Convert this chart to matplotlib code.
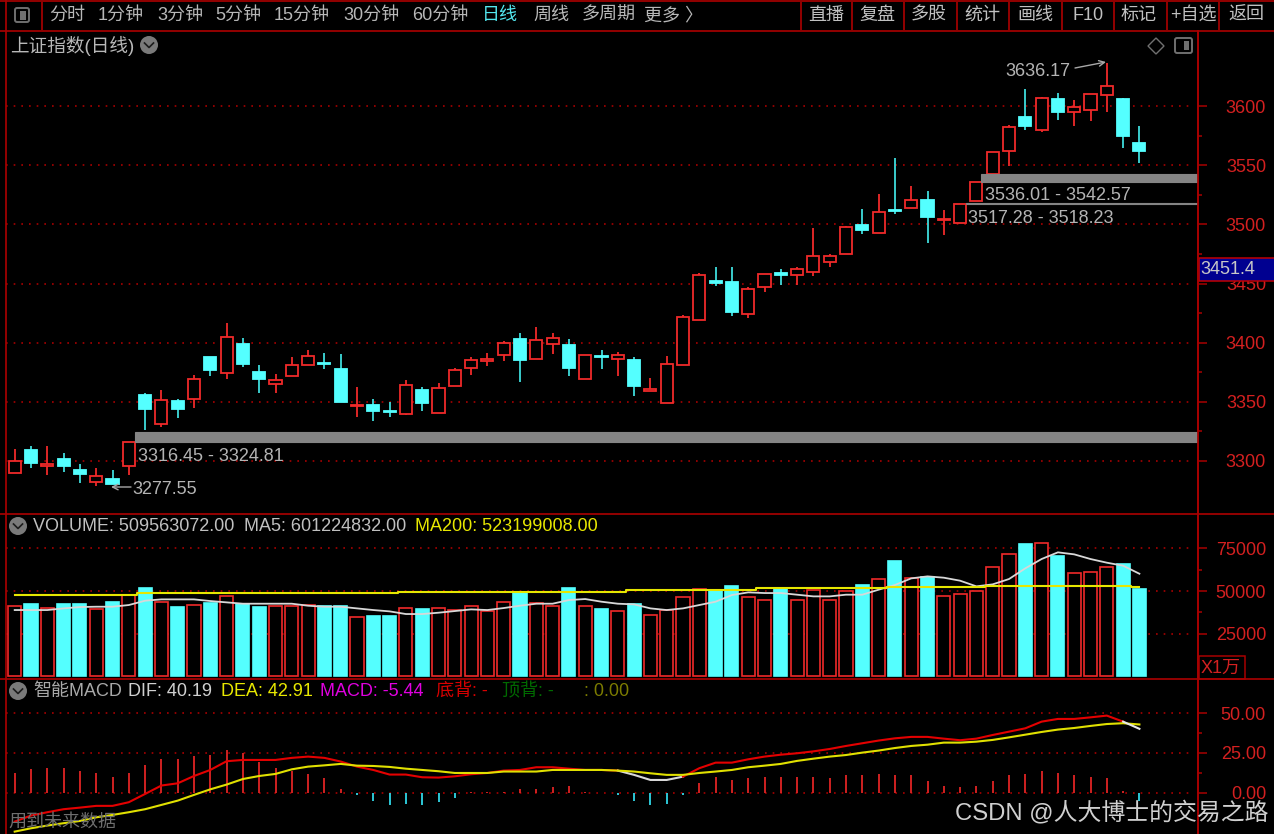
import matplotlib
matplotlib.use("Agg")
import matplotlib.pyplot as plt
from matplotlib.patches import Rectangle, Circle, Polygon, FancyBboxPatch
import numpy as np

FONT = ['Liberation Sans', 'Noto Sans CJK SC', 'DejaVu Sans']
plt.rcParams['font.family'] = FONT

# ---------- data ----------
opens = [3289.6,3309.0,3296.0,3301.4,3292.6,3282.0,3285.0,3296.0,3356.0,3331.3,
         3351.0,3352.6,3387.6,3374.6,3399.1,3375.0,3365.3,3371.8,3380.9,3382.8,
         3377.5,3346.5,3347.1,3342.0,3340.0,3359.7,3340.3,3363.1,3378.3,3384.5,
         3389.6,3402.8,3385.9,3398.6,3397.8,3369.3,3389.0,3385.9,3385.1,3359.2,
         3349.0,3380.9,3418.9,3452.1,3451.0,3424.0,3446.8,3458.6,3456.9,3459.5,
         3468.4,3474.7,3499.2,3492.4,3512.1,3513.8,3520.8,3503.4,3501.1,3520.0,
         3542.6,3562.2,3590.5,3579.7,3605.7,3594.9,3596.4,3609.1,3605.7,3569.0]
closes = [3300.0,3298.3,3297.7,3295.8,3289.3,3287.3,3280.3,3316.3,3343.9,3351.8,
          3343.9,3369.6,3376.7,3405.0,3382.0,3369.0,3368.5,3381.1,3388.7,3382.0,
          3350.1,3347.1,3342.5,3341.2,3364.5,3349.0,3361.9,3377.2,3385.1,3385.9,
          3400.0,3385.6,3402.5,3403.7,3378.3,3389.8,3388.1,3389.8,3363.1,3360.8,
          3382.2,3421.4,3457.2,3450.7,3426.2,3445.6,3458.3,3456.9,3462.0,3473.5,
          3473.5,3497.8,3495.0,3510.4,3511.3,3520.6,3506.2,3504.3,3517.3,3536.0,
          3560.9,3582.5,3583.4,3606.8,3594.9,3599.2,3610.4,3616.9,3574.7,3562.0]
highs = [3310.1,3312.9,3312.9,3306.5,3297.7,3293.8,3292.6,3316.3,3357.2,3360.0,
         3352.1,3372.7,3387.6,3416.9,3404.2,3381.1,3373.5,3387.6,3393.8,3391.5,
         3390.2,3362.3,3352.1,3349.6,3368.5,3362.3,3366.2,3378.8,3387.9,3391.5,
         3401.7,3407.9,3413.0,3407.9,3402.8,3389.8,3394.1,3391.9,3387.6,3369.9,
         3389.0,3423.1,3458.6,3463.7,3463.7,3447.3,3458.3,3462.5,3463.7,3496.9,
         3475.2,3498.9,3513.2,3525.9,3556.3,3532.2,3528.4,3511.9,3517.3,3536.0,
         3560.9,3584.0,3614.6,3607.9,3611.0,3605.3,3610.4,3636.17,3606.8,3582.9]
lows = [3289.6,3294.3,3288.2,3290.5,3281.7,3279.1,3280.3,3288.2,3326.2,3328.5,
        3336.1,3345.0,3371.6,3369.0,3379.2,3357.7,3357.7,3371.8,3380.9,3378.0,
        3350.1,3337.4,3333.6,3337.4,3338.9,3342.5,3340.3,3363.1,3372.9,3380.5,
        3384.5,3366.5,3385.9,3390.7,3371.6,3369.3,3378.0,3371.8,3355.2,3359.2,
        3349.0,3380.9,3418.9,3447.6,3422.3,3421.1,3442.6,3449.0,3449.0,3456.6,
        3464.2,3474.7,3492.1,3492.4,3508.5,3513.8,3484.5,3491.0,3501.1,3520.0,
        3542.6,3549.0,3579.5,3578.3,3588.2,3583.4,3587.1,3594.7,3564.3,3551.6]

volume = [41020,42190,40230,42190,42190,39260,43750,47650,51750,43550,
          40430,41800,42970,47260,42580,40430,41020,41020,41990,41020,
          41020,34770,35160,35160,40230,39450,40230,39060,41020,38280,
          43750,49600,42770,41020,51750,41020,39450,38280,42580,35740,
          38670,46280,51360,50380,52730,46280,44530,51360,44530,50380,
          44530,49800,53510,56830,67560,57800,58390,47070,48040,49800,
          63850,71660,77320,77910,70300,60340,61320,63850,65610,50956]
ma5 = [38870,38870,38870,39840,40620,40820,40820,41800,44330,45110,
       45110,45110,44140,43360,42580,42580,42580,42580,41400,40820,
       40820,39840,38870,38090,36530,36530,37310,38280,39260,38870,
       40040,41400,42580,42580,44720,45310,43750,42580,42190,39840,
       38870,39840,41800,43750,47650,49210,48820,48820,47850,46870,
       46870,47850,47850,50780,53510,57410,58580,57800,56050,52730,
       53900,57020,63270,68730,72640,71470,68730,66590,64830,60122]
ma200 = [47650]*8 + [48630]*16 + [49600]*14 + [50580]*8 + [51560]*8 + [52340]*6 + [53120]*9 + [52320]

dif = [-18.2,-14.4,-12.3,-10.4,-9.4,-8.3,-8.3,-6.0,-0.8,4.5,
       5.9,10.5,14.3,19.8,20.6,20.6,20.6,21.9,22.7,21.9,
       19.6,16.4,14.3,11.4,11.4,9.7,9.5,10.3,11.6,12.4,
       13.9,14.3,16.0,16.0,15.1,14.3,14.3,13.9,11.2,8.0,
       8.0,10.1,15.4,18.9,18.9,21.0,22.7,23.9,24.8,26.0,
       27.5,29.4,31.1,32.8,34.2,35.1,35.1,34.0,33.0,34.0,
       36.3,38.4,40.5,44.7,46.4,46.4,47.4,48.5,44.7,40.19]
dea = [-24.5,-22.4,-20.7,-19.2,-17.8,-15.5,-14.0,-12.3,-10.4,-7.7,
       -5.0,-1.4,2.1,5.1,8.6,10.5,11.8,14.7,16.4,17.2,
       18.1,17.0,16.8,16.2,15.1,14.3,13.5,12.4,12.4,12.4,
       13.3,13.3,13.3,14.3,14.3,14.3,14.3,13.9,13.3,12.2,
       11.2,11.2,12.4,13.3,14.3,16.0,17.0,18.1,20.0,21.4,
       22.7,23.7,25.2,26.5,28.1,29.4,30.2,31.5,31.5,32.1,
       33.2,34.8,36.5,38.2,39.7,40.7,42.0,43.2,43.7,42.91]
macd = [12.6,14.7,15.5,15.5,13.6,12.6,9.6,12.6,17.4,21.0,
        21.0,23.1,23.9,26.8,24.7,19.3,15.5,13.8,11.7,9.0,
        2.3,-1.5,-5.2,-8.0,-7.1,-8.0,-6.1,-3.1,0.3,0.3,
        0.4,2.5,2.5,3.4,4.2,0.4,-0.2,-1.5,-5.0,-8.0,
        -7.1,-1.5,6.3,9.9,8.0,9.0,9.9,9.9,9.9,9.9,
        9.0,10.9,10.9,11.7,10.9,10.9,7.3,4.2,3.4,4.2,
        7.1,10.9,11.7,13.6,12.6,10.9,9.9,9.0,1.3,-5.44]

gap_low = [3316.45, 3536.01, 3517.28]
gap_high = [3324.81, 3542.57, 3518.23]
gap_start = [7.35, 59.3, 58.35]
gap_labels = ["3316.45 - 3324.81", "3536.01 - 3542.57", "3517.28 - 3518.23"]

price_major = [3300, 3350, 3400, 3450, 3500, 3550, 3600]
price_minor = [3325, 3375, 3425, 3475, 3525, 3575]
vol_major = [25000, 50000, 75000]
vol_minor = [37500, 62500]
macd_major = [0, 25, 50]
macd_minor = [12.5, 37.5]

toolbar_left = ["分时", "1分钟", "3分钟", "5分钟", "15分钟", "30分钟", "60分钟", "日线", "周线", "多周期", "更多 〉"]
toolbar_right = ["直播", "复盘", "多股", "统计", "画线", "F10", "标记", "+自选", "返回"]

# ---------- style ----------
W, H = 1274, 834
BG = '#000000'
FRAME = '#a80000'
GRID = '#a80000'
AXTXT = '#d42020'
RED = '#f02a2a'
CYAN = '#54ffff'
CYANW = '#3fdcdc'
GRAY = '#b4b4b4'
PX = 72 / 100
STEP = 16.3
X0 = 14.7
XR = (1198 - X0) / STEP

fig = plt.figure(figsize=(W / 100, H / 100), dpi=100, facecolor=BG)

def pane(top, bottom, left=6, right=1198):
    ax = fig.add_axes([left / W, 1 - bottom / H, (right - left) / W, (bottom - top) / H], facecolor=BG)
    for s in ax.spines.values():
        s.set_visible(False)
    ax.spines['right'].set_visible(True)
    ax.spines['right'].set_color(FRAME)
    ax.spines['right'].set_linewidth(1.7 * PX)
    ax.set_xlim((left - X0) / STEP, XR)
    ax.set_xticks([])
    ax.yaxis.tick_right()
    return ax

def axis_style(ax, major, minor, fmt):
    ax.set_yticks(major)
    ax.set_yticklabels([fmt % v for v in major], fontsize=13, color=AXTXT, ha='right')
    ax.set_yticks(minor, minor=True)
    ax.tick_params(axis='y', which='major', length=6.3, width=1.1, color=FRAME, pad=42.7)
    ax.tick_params(axis='y', which='minor', length=3, width=1.1, color=FRAME)
    ax.hlines(major, ax.get_xlim()[0], XR - 0.37, colors=GRID, linewidth=1.2, linestyles=[(0, (1.0, 3.6))], zorder=1)

n = len(opens)
xs = np.arange(n)
up = [c >= o for o, c in zip(opens, closes)]

# price pane
ax1 = pane(31, 514)
ax1.set_ylim(3255.2, 3663.4)
axis_style(ax1, price_major, price_minor, '%d')
for i in xs:
    col = RED if up[i] else CYAN
    wick = RED if up[i] else CYANW
    ax1.vlines(i, lows[i], highs[i], color=wick, linewidth=1.3, zorder=2)
    lo, hi = min(opens[i], closes[i]), max(opens[i], closes[i])
    ax1.add_patch(Rectangle((i - 0.37, lo), 0.74, hi - lo, facecolor=BG if up[i] else CYAN,
                            edgecolor=col, linewidth=1.3, zorder=3))
for s, l, h in zip(gap_start, gap_low, gap_high):
    ax1.add_patch(Rectangle((s, l), XR - 0.05 - s, h - l, facecolor='#848484', edgecolor='#848484', linewidth=0.8, zorder=4))

# volume pane
ax2 = pane(515, 678.5)
ax2.set_ylim(-1200, 94500)
axis_style(ax2, vol_major, vol_minor, '%d')
for i in xs:
    ax2.bar(i, volume[i], width=0.8, facecolor=BG if up[i] else CYAN,
            edgecolor=RED if up[i] else CYAN, linewidth=1.2, zorder=2)
ax2.plot(xs, ma5, color='#d8d8d8', linewidth=1.3, zorder=4)
ax2.plot(xs, ma200, color='#e6e600', linewidth=1.5, drawstyle='steps-mid', zorder=5)

# MACD pane
ax3 = pane(680, 834)
ax3.set_ylim(-26.0, 70.9)
axis_style(ax3, macd_major, macd_minor, '%.2f')
for i in xs:
    ax3.vlines(i, 0, macd[i], color='#e02424' if macd[i] >= 0 else '#30d8e8', linewidth=1.3, zorder=2)
ax3.plot(xs[:38], dif[:38], color='#e40000', linewidth=1.5, zorder=3)
ax3.plot(xs[37:42], dif[37:42], color='#d8d8d8', linewidth=1.5, zorder=3)
ax3.plot(xs[41:69], dif[41:69], color='#e40000', linewidth=1.5, zorder=3)
ax3.plot(xs[68:], dif[68:], color='#e8e8e8', linewidth=1.5, zorder=5)
ax3.plot(xs, dea, color='#e0e000', linewidth=1.5, zorder=4)

# overlay in pixel coordinates for the terminal chrome
ov = fig.add_axes([0, 0, 1, 1], facecolor='none', zorder=10)
ov.set_xlim(0, W)
ov.set_ylim(H, 0)
ov.axis('off')

def hl(y, x0=0, x1=W, lw=1.7):
    ov.plot([x0, x1], [y, y], color=FRAME, linewidth=lw * PX, solid_capstyle='butt')

def vl(x, y0, y1, lw=1.7):
    ov.plot([x, x], [y0, y1], color=FRAME, linewidth=lw * PX, solid_capstyle='butt')

def txt(x, y, s, color=GRAY, size=13, ha='left'):
    ov.text(x, y + 1, s, color=color, fontsize=size, ha=ha, va='center', family=FONT)

hl(1); hl(30.5); hl(514); hl(678.5)
vl(6, 30, H)
vl(5.5, 0, 30)
vl(42, 2, 30)
vl(1198, 30, H)
for x in [801, 852, 904, 957, 1009, 1062, 1114, 1167, 1219]:
    vl(x, 2, 30)

# toolbar
lx = [67, 121, 180, 238, 302, 371, 440, 500, 551, 609, 674]
for x, s in zip(lx, toolbar_left):
    txt(x, 14.5, s, color='#54e8f0' if s == "日线" else '#b8b8b8', size=13, ha='center')
rx = [826, 877, 929, 982, 1035, 1088, 1139, 1193, 1246]
for x, s in zip(rx, toolbar_right):
    txt(x, 14.5, s, color='#c0c0c0', size=13, ha='center')
ov.add_patch(FancyBboxPatch((15, 8), 14, 14, boxstyle='round,pad=0,rounding_size=2', fill=False, edgecolor='#707070', linewidth=1.4))
ov.add_patch(Rectangle((20, 10.5), 6, 9, facecolor='#707070', edgecolor='none'))

def chevron(x, y):
    ov.add_patch(Circle((x, y), 9, facecolor='#7a7a7a', edgecolor='none'))
    ov.plot([x - 4.5, x, x + 4.5], [y - 2, y + 2.5, y - 2], color='#1c1c1c', linewidth=1.2)

# titles
txt(10, 44.5, "上证指数(日线)", color='#b8b8b8', size=13.4)
chevron(149, 45)
ov.add_patch(Polygon([(1156, 38), (1164, 46), (1156, 54), (1148, 46)], fill=False, edgecolor='#707070', linewidth=1))
ov.add_patch(FancyBboxPatch((1175, 38), 17, 15, boxstyle='round,pad=0,rounding_size=2', fill=False, edgecolor='#707070', linewidth=1.4))
ov.add_patch(Rectangle((1184, 41), 5, 9, facecolor='#707070', edgecolor='none'))

chevron(18, 526)
txt(33, 525.5, "VOLUME: 509563072.00", color='#c0c0c0')
txt(244, 525.5, "MA5: 601224832.00", color='#c0c0c0')
txt(415, 525.5, "MA200: 523199008.00", color='#e8e800')

chevron(18, 691)
txt(33, 690.5, "智能MACD", color='#a8a8a8')
txt(128, 690.5, "DIF: 40.19", color='#d0d0d0')
txt(221, 690.5, "DEA: 42.91", color='#e8e800')
txt(320, 690.5, "MACD: -5.44", color='#e000e0')
txt(436, 690.5, "底背: -", color='#d80000')
txt(502, 690.5, "顶背: -", color='#006a00')
txt(584, 690.5, ": 0.00", color='#7c7c00')

# price annotations
txt(138, 455, gap_labels[0])
txt(985, 194, gap_labels[1])
txt(968, 217, gap_labels[2])
txt(132, 488, "3277.55")
txt(1005, 70, "3636.17")
ov.annotate('', xy=(111, 487), xytext=(131, 487), arrowprops=dict(arrowstyle='->', color='#a8a8a8', lw=1, shrinkA=0, shrinkB=0))
ov.annotate('', xy=(1106, 62), xytext=(1075, 68), arrowprops=dict(arrowstyle='->', color='#a8a8a8', lw=1, shrinkA=0, shrinkB=0))

# current price box
ov.add_patch(Rectangle((1199, 258), 76, 23, facecolor='#000090', edgecolor='#c00000', linewidth=1.1))
txt(1200, 268.5, "3451.4", color='#c8c8c8')

# unit box
ov.add_patch(Rectangle((1198.5, 656), 46.5, 22.5, facecolor='none', edgecolor=FRAME, linewidth=1.1))
txt(1201, 667, "X1万", color=AXTXT, size=13)

txt(8, 821.5, "用到未来数据", color='#6e6e6e', size=13)
txt(955, 811.5, "CSDN @人大博士的交易之路", color='#d0d0d0', size=17.2)

fig.savefig('out.png', dpi=100, facecolor=BG)
